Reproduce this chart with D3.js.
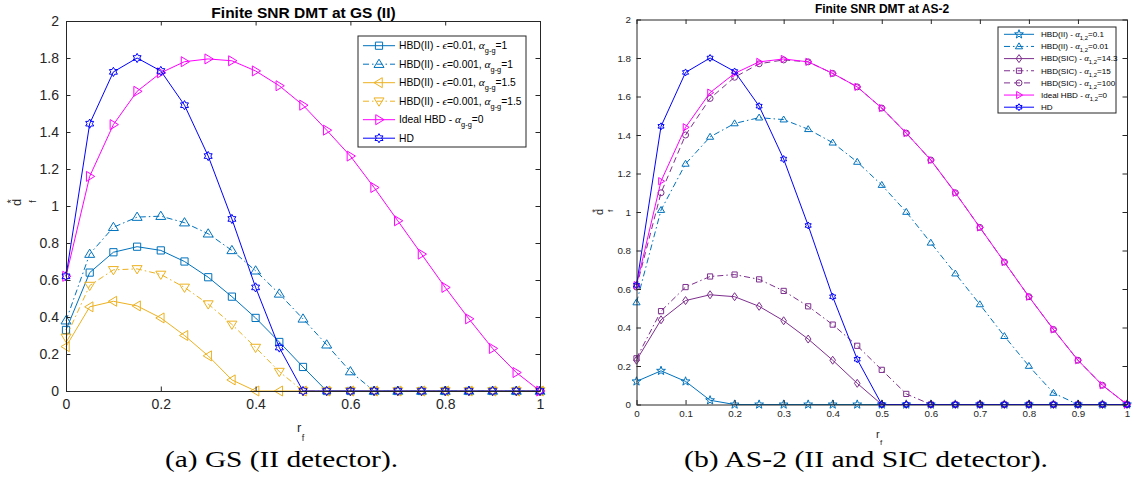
<!DOCTYPE html>
<html><head><meta charset="utf-8">
<script src="https://cdn.jsdelivr.net/npm/d3@7"></script>
<style>body{margin:0;background:#fff}svg{display:block}</style>
</head><body>
<svg id="c" width="1134" height="489"></svg>
<script>
// ---------------- DATA ----------------
const rf = [0,0.05,0.1,0.15,0.2,0.25,0.3,0.35,0.4,0.45,0.5,0.55,0.6,0.65,0.7,0.75,0.8,0.85,0.9,0.95,1];

// (a) GS (II detector)
const gsHbdEps001A1   = [0.33,0.64,0.75,0.78,0.76,0.70,0.615,0.51,0.395,0.265,0.13,0,0,0,0,0,0,0,0,0,0];
const gsHbdEps0001A1  = [0.38,0.74,0.885,0.94,0.945,0.91,0.85,0.76,0.65,0.525,0.39,0.25,0.105,0,0,0,0,0,0,0,0];
const gsHbdEps001A15  = [0.24,0.455,0.485,0.46,0.395,0.30,0.19,0.06,0,0,0,0,0,0,0,0,0,0,0,0,0];
const gsHbdEps0001A15 = [0.29,0.57,0.655,0.66,0.63,0.56,0.47,0.36,0.235,0.105,0,0,0,0,0,0,0,0,0,0,0];
const gsIdealHbd      = [0.62,1.16,1.44,1.62,1.72,1.78,1.795,1.785,1.73,1.65,1.545,1.41,1.27,1.10,0.92,0.74,0.56,0.39,0.23,0.10,0];
const gsHd            = [0.62,1.445,1.725,1.80,1.73,1.545,1.27,0.93,0.56,0.235,0,0,0,0,0,0,0,0,0,0,0];

// (b) AS-2 (II and SIC detector)
const as2HbdIIa01     = [0.12,0.175,0.12,0.022,0,0,0,0,0,0,0,0,0,0,0,0,0,0,0,0,0];
const as2HbdIIa001    = [0.53,1.01,1.25,1.39,1.46,1.49,1.48,1.43,1.36,1.26,1.14,1.00,0.84,0.68,0.52,0.355,0.20,0.06,0,0,0];
const as2HbdSic143    = [0.23,0.44,0.54,0.57,0.56,0.51,0.435,0.34,0.23,0.11,0,0,0,0,0,0,0,0,0,0,0];
const as2HbdSic15     = [0.24,0.485,0.61,0.665,0.675,0.65,0.59,0.51,0.415,0.305,0.18,0.055,0,0,0,0,0,0,0,0,0];
const as2HbdSic100    = [0.61,1.10,1.40,1.59,1.70,1.77,1.79,1.78,1.72,1.65,1.54,1.41,1.27,1.10,0.92,0.74,0.56,0.39,0.23,0.10,0];
const as2IdealHbd     = [0.62,1.16,1.44,1.62,1.72,1.78,1.795,1.78,1.72,1.65,1.54,1.41,1.27,1.10,0.92,0.74,0.56,0.39,0.23,0.10,0];
const as2Hd           = [0.62,1.445,1.725,1.80,1.73,1.55,1.275,0.93,0.56,0.235,0,0,0,0,0,0,0,0,0,0,0];

const yTicks  = [0,0.2,0.4,0.6,0.8,1,1.2,1.4,1.6,1.8,2];
const xTicksA = [0,0.2,0.4,0.6,0.8,1];
const xTicksB = [0,0.1,0.2,0.3,0.4,0.5,0.6,0.7,0.8,0.9,1];

const titleA = "Finite SNR DMT at GS (II)";
const titleB = "Finite SNR DMT at AS-2";
const captionA = "(a) GS (II detector).";
const captionB = "(b) AS-2 (II and SIC detector).";

const legendA = [
  [{t:"HBD(II) - "},{t:"ϵ",it:1},{t:"=0.01, "},{t:"α",it:1},{t:"g-g",sub:1},{t:"=1"}],
  [{t:"HBD(II) - "},{t:"ϵ",it:1},{t:"=0.001, "},{t:"α",it:1},{t:"g-g",sub:1},{t:"=1"}],
  [{t:"HBD(II) - "},{t:"ϵ",it:1},{t:"=0.01, "},{t:"α",it:1},{t:"g-g",sub:1},{t:"=1.5"}],
  [{t:"HBD(II) - "},{t:"ϵ",it:1},{t:"=0.001, "},{t:"α",it:1},{t:"g-g",sub:1},{t:"=1.5"}],
  [{t:"Ideal HBD - "},{t:"α",it:1},{t:"g-g",sub:1},{t:"=0"}],
  [{t:"HD"}]
];
const legendB = [
  [{t:"HBD(II) - "},{t:"α",it:1},{t:"1,2",sub:1},{t:"=0.1"}],
  [{t:"HBD(II) - "},{t:"α",it:1},{t:"1,2",sub:1},{t:"=0.01"}],
  [{t:"HBD(SIC) - "},{t:"α",it:1},{t:"1,2",sub:1},{t:"=14.3"}],
  [{t:"HBD(SIC) - "},{t:"α",it:1},{t:"1,2",sub:1},{t:"=15"}],
  [{t:"HBD(SIC) - "},{t:"α",it:1},{t:"1,2",sub:1},{t:"=100"}],
  [{t:"Ideal HBD - "},{t:"α",it:1},{t:"1,2",sub:1},{t:"=0"}],
  [{t:"HD"}]
];

// ---------------- STYLE ----------------
const C_BLUE = "#0072BD", C_YEL = "#EDB120", C_MAG = "#FF00FF", C_HD = "#0000FF", C_PUR = "#7E2F8E";
const DASHDOT = "6,3,1.5,3", DASHED = "6,4";
const SANS = "'Liberation Sans', Arial, Helvetica, sans-serif";
const SERIF = "'Liberation Serif', 'Times New Roman', serif";
const AX = "#262626";

const seriesA = [
  {v:gsHbdEps001A1,  c:C_BLUE, d:null,    m:"square", s:3.6},
  {v:gsHbdEps0001A1, c:C_BLUE, d:DASHDOT, m:"up",     s:5},
  {v:gsHbdEps001A15, c:C_YEL,  d:null,    m:"left",   s:5},
  {v:gsHbdEps0001A15,c:C_YEL,  d:DASHDOT, m:"down",   s:5},
  {v:gsIdealHbd,     c:C_MAG,  d:null,    m:"right",  s:5},
  {v:gsHd,           c:C_HD,   d:null,    m:"hex",    s:4.6}
];
const seriesB = [
  {v:as2HbdIIa01,  c:C_BLUE, d:null,    m:"penta",  s:4.2},
  {v:as2HbdIIa001, c:C_BLUE, d:DASHDOT, m:"up",     s:3.6},
  {v:as2HbdSic143, c:C_PUR,  d:null,    m:"diamond",s:4},
  {v:as2HbdSic15,  c:C_PUR,  d:DASHDOT, m:"square", s:2.6},
  {v:as2HbdSic100, c:C_PUR,  d:DASHED,  m:"circle", s:3},
  {v:as2IdealHbd,  c:C_MAG,  d:null,    m:"right",  s:3.6},
  {v:as2Hd,        c:C_HD,   d:null,    m:"hex",    s:3.5}
];

function markerPath(type, s){
  const p = d3.path();
  const poly = pts => { p.moveTo(pts[0][0],pts[0][1]); for(let i=1;i<pts.length;i++) p.lineTo(pts[i][0],pts[i][1]); p.closePath(); };
  const star = (n, r, ri) => { const pts=[]; for(let i=0;i<2*n;i++){ const a=-Math.PI/2+i*Math.PI/n; const rr=i%2?ri:r; pts.push([rr*Math.cos(a), rr*Math.sin(a)]);} poly(pts); };
  switch(type){
    case "square": poly([[-s,-s],[s,-s],[s,s],[-s,s]]); break;
    case "up":     poly([[0,-s],[s,s*0.65],[-s,s*0.65]]); break;
    case "down":   poly([[0,s],[s,-s*0.65],[-s,-s*0.65]]); break;
    case "left":   poly([[-s,0],[s*0.65,-s],[s*0.65,s]]); break;
    case "right":  poly([[s,0],[-s*0.65,-s],[-s*0.65,s]]); break;
    case "diamond":poly([[0,-s],[s*0.7,0],[0,s],[-s*0.7,0]]); break;
    case "hex":    star(6, s, s*0.577); break;
    case "penta":  star(5, s*1.1, s*0.45); break;
    case "circle": p.moveTo(s,0); p.arc(0,0,s,0,2*Math.PI); break;
  }
  return p.toString();
}

const svg = d3.select("#c");

function rich(textSel, parts, fs, drop){
  let cur = 0;
  parts.forEach(p=>{
    const ts = textSel.append("tspan").text(p.t);
    const target = p.sub ? drop : 0;
    if (target !== cur) ts.attr("dy", target-cur);
    cur = target;
    if (p.sub) ts.attr("font-size", fs*0.72);
    if (p.it) ts.attr("font-style","italic").attr("font-family", SERIF).attr("font-size", fs*1.1);
  });
}

function drawPanel(cfg){
  const {x, y, xTicks, series, tickFs, tickLen, padY, padX, legend} = cfg;
  const g = svg.append("g");
  const [x0,x1] = x.range(), [y0,y1] = y.range();

  const line = d3.line().x((d,i)=>x(rf[i])).y(d=>y(d));
  series.forEach(s=>{
    g.append("path").datum(s.v).attr("d", line).attr("fill","none")
      .attr("stroke", s.c).attr("stroke-width",1).attr("stroke-dasharray", s.d);
    g.selectAll(null).data(s.v).enter().append("path")
      .attr("d", markerPath(s.m, s.s))
      .attr("transform",(d,i)=>`translate(${x(rf[i])},${y(d)})`)
      .attr("fill","none").attr("stroke", s.c).attr("stroke-width",1);
  });

  const fmt = d => String(+d.toFixed(1));
  const styleAxis = a => {
    a.select(".domain").attr("stroke", AX).attr("stroke-width",1);
    a.selectAll(".tick line").attr("stroke", AX).attr("stroke-width",1);
    a.selectAll("text").attr("fill", AX).attr("font-family", SANS).attr("font-size", tickFs);
  };
  const ab = g.append("g").attr("transform",`translate(0,${y0})`)
    .call(d3.axisBottom(x).tickValues(xTicks).tickFormat(fmt).tickSize(-tickLen).tickSizeOuter(0).tickPadding(padX));
  const al = g.append("g").attr("transform",`translate(${x0},0)`)
    .call(d3.axisLeft(y).tickValues(yTicks).tickFormat(fmt).tickSize(-tickLen).tickSizeOuter(0).tickPadding(padY));
  const at = g.append("g").attr("transform",`translate(0,${y1})`)
    .call(d3.axisTop(x).tickValues(xTicks).tickFormat("").tickSize(-tickLen).tickSizeOuter(0));
  const ar = g.append("g").attr("transform",`translate(${x1},0)`)
    .call(d3.axisRight(y).tickValues(yTicks).tickFormat("").tickSize(-tickLen).tickSizeOuter(0));
  [ab,al,at,ar].forEach(styleAxis);

  const L = legend;
  const lg = svg.append("g");
  lg.append("rect").attr("x",L.x0).attr("y",L.y0).attr("width",L.x1-L.x0).attr("height",L.y1-L.y0)
    .attr("fill","#fff").attr("stroke",AX).attr("stroke-width",1);
  L.labels.forEach((lab,i)=>{
    const s = series[i];
    const yy = L.first + i*L.step;
    lg.append("line").attr("x1",L.lx0).attr("x2",L.lx1).attr("y1",yy).attr("y2",yy)
      .attr("stroke",s.c).attr("stroke-width",1).attr("stroke-dasharray",s.d);
    lg.append("path").attr("d",markerPath(s.m,s.s)).attr("transform",`translate(${(L.lx0+L.lx1)/2},${yy})`)
      .attr("fill","none").attr("stroke",s.c).attr("stroke-width",1);
    const t = lg.append("text").attr("x",L.tx).attr("y",yy+L.fs*0.35)
      .attr("font-family",SANS).attr("font-size",L.fs).attr("fill","#000");
    rich(t, lab, L.fs, L.drop);
  });
}

const xA = d3.scaleLinear().domain([0,1]).range([66,540]);
const yA = d3.scaleLinear().domain([0,2]).range([391,21]);
const xB = d3.scaleLinear().domain([0,1]).range([636.5,1127]);
const yB = d3.scaleLinear().domain([0,2]).range([404.5,19.5]);

drawPanel({x:xA, y:yA, xTicks:xTicksA, series:seriesA, tickFs:14, tickLen:4.5, padY:7, padX:8,
  legend:{x0:358,y0:36,x1:526,y1:147,first:45.7,step:18.5,lx0:363,lx1:395,tx:399,fs:10.3,drop:4,labels:legendA}});
drawPanel({x:xB, y:yB, xTicks:xTicksB, series:seriesB, tickFs:9.8, tickLen:4.5, padY:5.5, padX:6,
  legend:{x0:998,y0:27,x1:1116,y1:113,first:34.3,step:12.15,lx0:1004,lx1:1034,tx:1041,fs:8.1,drop:3,labels:legendB}});

svg.append("text").attr("x",303.5).attr("y",18).attr("text-anchor","middle")
  .attr("font-family",SANS).attr("font-weight","bold").attr("font-size",15.5).text(titleA);
svg.append("text").attr("x",882).attr("y",12.5).attr("text-anchor","middle")
  .attr("font-family",SANS).attr("font-weight","bold").attr("font-size",12).text(titleB);

function rLabel(xr, base, fs, fsub, drop, gap){
  const t = svg.append("text").attr("x",xr).attr("y",base).attr("font-family",SANS).attr("font-size",fs).attr("fill",AX);
  t.append("tspan").text("r");
  t.append("tspan").attr("dy",drop).attr("dx",gap).attr("font-size",fsub).text("f");
}
rLabel(297, 432, 13, 9, 8.7, 0.5);
rLabel(876, 437.5, 11, 8, 7.5, 0.3);

// y labels d_f^*  (rotated, reading bottom to top)
function dLabel(cy, xBase, fs, fsub, subOff, supBase){
  const g = svg.append("g").attr("transform","rotate(-90)");
  const common = t => t.attr("font-family",SANS).attr("fill",AX).attr("text-anchor","middle");
  common(g.append("text")).attr("x",-cy).attr("y",xBase).attr("font-size",fs).text("d");
  common(g.append("text")).attr("x",-cy+1).attr("y",xBase+subOff).attr("font-size",fsub).text("f");
  common(g.append("text")).attr("x",-cy+1).attr("y",supBase).attr("font-size",fsub+1.5).text("*");
}
dLabel(202.5, 21, 13, 9, 14.5, 14.5);
dLabel(212, 603, 11, 8, 10, 597.5);

svg.append("text").attr("x",165).attr("y",467).attr("font-family",SERIF).attr("font-size",23.5)
  .attr("textLength",233).attr("lengthAdjust","spacingAndGlyphs").attr("fill","#000").text(captionA);
svg.append("text").attr("x",684).attr("y",467).attr("font-family",SERIF).attr("font-size",23.5)
  .attr("textLength",364).attr("lengthAdjust","spacingAndGlyphs").attr("fill","#000").text(captionB);
</script>
</body></html>
